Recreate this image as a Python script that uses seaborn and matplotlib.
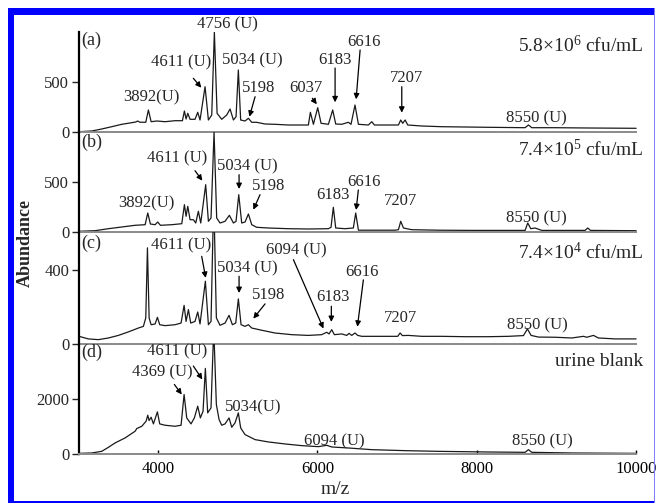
import matplotlib
matplotlib.use("Agg")
import matplotlib.pyplot as plt
from matplotlib.patches import Rectangle
import seaborn as sns
import pandas as pd

# ---------------- data ----------------
mz_a = [3008, 3168, 3293, 3419, 3545, 3670, 3720, 3745, 3770, 3846, 3879, 3913, 3984, 4088, 4213, 4306,
        4331, 4352, 4373, 4402, 4464, 4498, 4527, 4590, 4632, 4674, 4707, 4741, 4799, 4862, 4904, 4946,
        4979, 5008, 5037, 5092, 5134, 5176, 5238, 5343, 5468, 5636, 5803, 5887, 5912, 5950, 6004, 6046,
        6138, 6192, 6230, 6305, 6389, 6422, 6472, 6515, 6640, 6682, 6716, 6891, 7017, 7046, 7071, 7101,
        7134, 7310, 7561, 7854, 8147, 8607, 8649, 8691, 8984, 9402, 10000]
ab_a = [3, 10, 30, 53, 77, 93, 100, 110, 98, 97, 220, 103, 110, 103, 113, 113,
        210, 130, 187, 127, 127, 197, 120, 453, 120, 170, 1000, 187, 127, 170, 230, 120,
        153, 620, 120, 110, 137, 97, 97, 80, 77, 70, 70, 70, 197, 77, 243, 87,
        77, 220, 80, 77, 97, 77, 270, 77, 70, 103, 70, 70, 70, 120, 87, 120,
        70, 60, 53, 50, 47, 43, 70, 43, 43, 40, 37]

mz_b = [3008, 3209, 3377, 3545, 3712, 3838, 3871, 3904, 3963, 3996, 4030, 4172, 4298, 4331, 4352,
        4373, 4402, 4444, 4473, 4506, 4536, 4598, 4632, 4665, 4703, 4736, 4778, 4841, 4895, 4946,
        4979, 5013, 5050, 5092, 5134, 5176, 5238, 5385, 5636, 5887, 6138, 6171, 6200, 6230, 6347,
        6451, 6481, 6515, 6724, 6975, 7017, 7046, 7080, 7184, 7519, 7937, 8356, 8607, 8640, 8678,
        8732, 8816, 9360, 9393, 9427, 10000]
ab_b = [7, 13, 33, 50, 67, 73, 190, 80, 73, 100, 67, 73, 83, 273, 157,
        257, 123, 123, 90, 207, 90, 473, 107, 140, 1000, 140, 90, 107, 167, 90,
        107, 373, 90, 100, 180, 73, 47, 40, 33, 30, 33, 47, 247, 40, 33,
        40, 190, 18, 18, 18, 23, 107, 40, 23, 18, 16, 16, 16, 90, 33,
        40, 16, 16, 40, 16, 13]

mz_c = [3008, 3125, 3251, 3377, 3502, 3628, 3753, 3816, 3846, 3867, 3888, 3913, 3963, 3992, 4021,
        4088, 4213, 4289, 4327, 4352, 4381, 4410, 4464, 4498, 4527, 4594, 4632, 4665, 4699, 4732,
        4778, 4841, 4891, 4933, 4975, 5008, 5042, 5092, 5134, 5176, 5301, 5468, 5678, 5887, 6054,
        6117, 6146, 6180, 6213, 6305, 6368, 6397, 6431, 6472, 6506, 6557, 6724, 6891, 7008, 7038,
        7067, 7142, 7310, 7561, 7854, 8147, 8397, 8586, 8636, 8682, 8774, 8984, 9193, 9339, 9381,
        9465, 9527, 9737, 10000]
ab_c = [40, 26, 22, 31, 45, 64, 85, 94, 140, 520, 140, 103, 107, 143, 103,
        98, 103, 112, 208, 121, 185, 112, 121, 172, 107, 339, 103, 121, 800, 140,
        100, 112, 154, 103, 112, 243, 103, 94, 103, 85, 73, 58, 49, 45, 49,
        62, 53, 76, 49, 53, 45, 56, 45, 58, 45, 40, 40, 40, 40, 58,
        44, 45, 40, 40, 38, 38, 40, 44, 80, 45, 36, 35, 31, 40, 35,
        45, 31, 26, 26]

mz_d = [3008, 3168, 3293, 3377, 3460, 3586, 3712, 3733, 3796, 3850, 3871, 3888, 3913, 3942, 3992,
        4021, 4088, 4213, 4289, 4327, 4360, 4414, 4456, 4498, 4531, 4565, 4594, 4623, 4665, 4699,
        4732, 4766, 4799, 4841, 4891, 4925, 4966, 5008, 5037, 5092, 5218, 5385, 5594, 5803, 6012,
        6117, 6180, 6389, 6682, 7101, 7519, 8147, 8607, 8649, 8691, 9193, 10000]
ab_d = [24, 37, 97, 244, 402, 585, 829, 926, 1011, 1194, 1414, 1219, 1341, 1097, 1536,
        1097, 1048, 1011, 1048, 2169, 1316, 1097, 1316, 1743, 1316, 1560, 3120, 1499, 1682, 4600,
        1804, 1255, 1048, 1097, 1316, 975, 1133, 1499, 951, 707, 524, 439, 366, 305, 268,
        317, 256, 219, 158, 122, 97, 73, 61, 158, 61, 37, 24]

panel_ids = ["(a)", "(b)", "(c)", "(d)"]
conditions = ["5.8×10$^{6}$ cfu/mL", "7.4×10$^{5}$ cfu/mL", "7.4×10$^{4}$ cfu/mL", "urine blank"]
y_ticks = [[0, 500], [0, 500], [0, 400], [0, 2000]]
x_ticks = [4000, 6000, 8000, 10000]

# peak labels: (text, m/z, abundance)
labels_a = [("4756 (U)", 4866, 1080), ("4611 (U)", 4289, 700), ("5034 (U)", 5186, 720),
            ("5198", 5268, 445), ("3892(U)", 3921, 345), ("6037", 5854, 437),
            ("6183", 6222, 720), ("6616", 6586, 903), ("7207", 7122, 537), ("8550 (U)", 8753, 140)]
labels_b = [("4611 (U)", 4242, 740), ("5034 (U)", 5122, 657), ("5198", 5393, 460),
            ("3892(U)", 3849, 290), ("6183", 6191, 373), ("6616", 6586, 503),
            ("7207", 7047, 307), ("8550 (U)", 8753, 133)]
labels_c = [("4611 (U)", 4289, 533), ("5034 (U)", 5122, 411), ("5198", 5393, 266),
            ("6094 (U)", 5741, 506), ("6183", 6191, 255), ("6616", 6565, 391),
            ("7207", 7043, 138), ("8550 (U)", 8757, 101)]
labels_d = [("4611 (U)", 4242, 3754), ("4369 (U)", 4059, 2961), ("5034(U)", 5192, 1700),
            ("6094 (U)", 6209, 463), ("8550 (U)", 8824, 463)]

# arrows: (tail m/z, tail abundance, tip m/z, tip abundance)
arrows_a = [(4443, 537, 4543, 443), (5218, 353, 5147, 153), (5937, 337, 5992, 277),
            (6222, 640, 6222, 297), (6536, 820, 6486, 327), (7059, 453, 7059, 193)]
arrows_b = [(4464, 613, 4556, 513), (5017, 573, 5017, 430), (5280, 373, 5196, 223),
            (6514, 420, 6486, 220)]
arrows_c = [(4548, 474, 4598, 357), (5017, 366, 5017, 275), (5343, 216, 5196, 136),
            (5699, 456, 6076, 82), (6175, 203, 6175, 118), (6577, 346, 6502, 92)]
arrows_d = [(4443, 3206, 4556, 2717), (4205, 2534, 4298, 2168)]

# ---------------- style ----------------
sns.set_style("white")
plt.rcParams["font.family"] = ["Liberation Serif", "DejaVu Serif"]
plt.rcParams["mathtext.fontset"] = "custom"
plt.rcParams["mathtext.rm"] = "Liberation Serif"
plt.rcParams["mathtext.it"] = "Liberation Serif:italic"

W, H = 657, 504
fig = plt.figure(figsize=(W / 100, H / 100), dpi=100)
fig.patch.set_facecolor("white")

left_px, right_px = 79, 636.5
panels_px = [(32, 132), (132, 232), (232, 343.7), (343.7, 454)]
ylims = [(0, 1000), (0, 1000), (0, 606), (0, 4020)]
xlim = (3008, 10005)

spectra = [(mz_a, ab_a), (mz_b, ab_b), (mz_c, ab_c), (mz_d, ab_d)]
all_labels = [labels_a, labels_b, labels_c, labels_d]
all_arrows = [arrows_a, arrows_b, arrows_c, arrows_d]
id_y = [920, 900, 543, 3693]
cond_y = [865, 823, 494, 3389]

for i, ((top, bot), (mz, ab)) in enumerate(zip(panels_px, spectra)):
    ax = fig.add_axes([left_px / W, 1 - bot / H, (right_px - left_px) / W, (bot - top) / H])
    ax.patch.set_alpha(0)
    df = pd.DataFrame({"mz": mz, "ab": ab})
    sns.lineplot(data=df, x="mz", y="ab", ax=ax, estimator=None, sort=False,
                 color="#1a1a1a", linewidth=0.9)
    ax.set_xlim(*xlim)
    ax.set_ylim(*ylims[i])
    ax.set_xlabel("")
    ax.set_ylabel("")
    for s in ("top", "right"):
        ax.spines[s].set_visible(False)
    ax.spines["left"].set_color("black")
    ax.spines["left"].set_linewidth(1.6)
    ax.spines["bottom"].set_color("#8a8a8a")
    ax.spines["bottom"].set_linewidth(1.4)
    ax.set_yticks(y_ticks[i])
    ax.tick_params(axis="y", direction="out", length=5, width=1, labelsize=12, pad=2, left=True)
    if i == 3:
        ax.set_xticks(x_ticks)
        ax.tick_params(axis="x", direction="in", length=3, width=1, labelsize=12, pad=5,
                       bottom=True, colors="black")
    else:
        ax.set_xticks([])
    for t in ax.get_yticklabels() + ax.get_xticklabels():
        t.set_fontfamily(["Liberation Serif", "DejaVu Serif"])

    ax.text(3034, id_y[i], panel_ids[i], fontsize=13, ha="left", va="center")
    ax.text(1.013, cond_y[i], conditions[i], fontsize=14, ha="right", va="center",
            transform=ax.get_yaxis_transform())
    for txt, x, y in all_labels[i]:
        ax.text(x, y, txt, fontsize=12, ha="center", va="center", clip_on=False)
    for x0, y0, x1, y1 in all_arrows[i]:
        ax.annotate("", xy=(x1, y1), xytext=(x0, y0),
                    arrowprops=dict(arrowstyle="-|>", color="black", lw=0.9,
                                    mutation_scale=8, shrinkA=0, shrinkB=0))

fig.text(25 / W, 1 - 243 / H, "Abundance", rotation=90, fontsize=13, fontweight="bold",
         ha="center", va="center")
fig.text(335 / W, 1 - 490 / H, "m/z", fontsize=14, ha="center", va="center")

# blue frame
blue = "#0000ff"
fig.patches.append(Rectangle((8 / W, 1 - 15 / H), 647 / W, 7 / H, transform=fig.transFigure,
                             facecolor=blue, edgecolor="none"))
fig.patches.append(Rectangle((8 / W, 1 - 502 / H), 6 / W, 494 / H, transform=fig.transFigure,
                             facecolor=blue, edgecolor="none"))
fig.patches.append(Rectangle((8 / W, 1 - 503 / H), 647 / W, 2.5 / H, transform=fig.transFigure,
                             facecolor=blue, edgecolor="none"))
fig.patches.append(Rectangle((653.5 / W, 1 - 503 / H), 1.5 / W, 495 / H, transform=fig.transFigure,
                             facecolor="#7f7fff", edgecolor="none"))

fig.savefig("out.png", dpi=100)
